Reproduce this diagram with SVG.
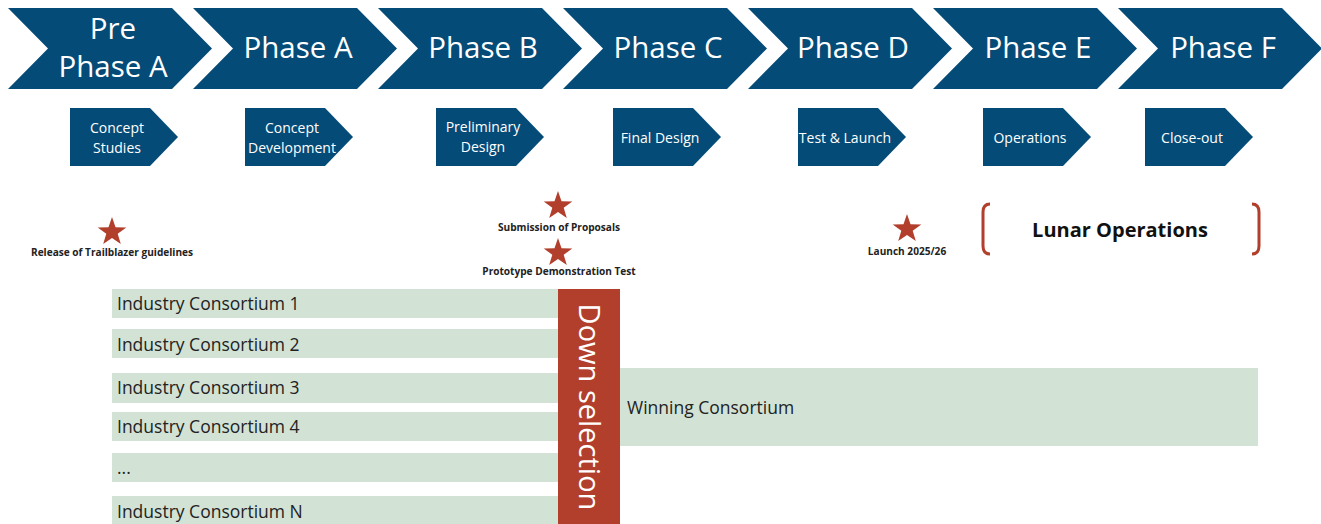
<svg xmlns="http://www.w3.org/2000/svg" width="1321" height="524" viewBox="0 0 1321 524">
<style>
.chev{fill:#054B77}
.big{font-family:"Open Sans","Liberation Sans",sans-serif;font-size:29.5px;fill:#fff;text-anchor:middle}
.sm{font-family:"Open Sans","Liberation Sans",sans-serif;font-size:14px;fill:#fff;text-anchor:middle}
.star{fill:#B23F2C}
.ms{font-family:"Open Sans","Liberation Sans",sans-serif;font-size:10.1px;font-weight:bold;fill:#222;text-anchor:middle}
.bar{fill:#D2E3D6}
.bt{font-family:"Open Sans","Liberation Sans",sans-serif;font-size:17.5px;fill:#222}
.brk{fill:none;stroke:#B23F2C;stroke-width:3}
</style>
<defs>
<path id="ch" d="M0,8 L164,8 L204,48.5 L164,89 L0,89 L40,48.5 Z"/>
<path id="sc" d="M0,108 L80,108 L108,137 L80,166 L0,166 Z"/>
<polygon id="st" points="0,-15 3.5,-4.8 14.3,-4.6 5.7,1.8 8.8,12.1 0,6 -8.8,12.1 -5.7,1.8 -14.3,-4.6 -3.5,-4.8"/>
</defs>
<g id="phase-pre"><use href="#ch" class="chev" x="8"/><text class="big" x="113" y="39">Pre</text><text class="big" x="113" y="77">Phase A</text></g>
<g id="phase-a"><use href="#ch" class="chev" x="193"/><text class="big" x="298" y="58">Phase A</text></g>
<g id="phase-b"><use href="#ch" class="chev" x="378"/><text class="big" x="483" y="58">Phase B</text></g>
<g id="phase-c"><use href="#ch" class="chev" x="563"/><text class="big" x="668" y="58">Phase C</text></g>
<g id="phase-d"><use href="#ch" class="chev" x="748"/><text class="big" x="853" y="58">Phase D</text></g>
<g id="phase-e"><use href="#ch" class="chev" x="933"/><text class="big" x="1038" y="58">Phase E</text></g>
<g id="phase-f"><use href="#ch" class="chev" x="1118"/><text class="big" x="1223" y="58">Phase F</text></g>

<g id="sub-concept-studies"><use href="#sc" class="chev" x="70"/><text class="sm" x="117" y="133">Concept</text><text class="sm" x="117" y="153">Studies</text></g>
<g id="sub-concept-dev"><use href="#sc" class="chev" x="245"/><text class="sm" x="292" y="133">Concept</text><text class="sm" x="292" y="153">Development</text></g>
<g id="sub-prelim"><use href="#sc" class="chev" x="436"/><text class="sm" x="483" y="132">Preliminary</text><text class="sm" x="483" y="152">Design</text></g>
<g id="sub-final"><use href="#sc" class="chev" x="613"/><text class="sm" x="660" y="143">Final Design</text></g>
<g id="sub-test"><use href="#sc" class="chev" x="798"/><text class="sm" x="845" y="143">Test &amp; Launch</text></g>
<g id="sub-ops"><use href="#sc" class="chev" x="983"/><text class="sm" x="1030" y="143">Operations</text></g>
<g id="sub-close"><use href="#sc" class="chev" x="1145"/><text class="sm" x="1192" y="143">Close-out</text></g>

<g id="ms-release"><use href="#st" class="star" x="112" y="232"/><text class="ms" x="112" y="256">Release of Trailblazer guidelines</text></g>
<g id="ms-submission"><use href="#st" class="star" x="558" y="206"/><text class="ms" x="559" y="231">Submission of Proposals</text></g>
<g id="ms-prototype"><use href="#st" class="star" x="558" y="253"/><text class="ms" x="559" y="275">Prototype Demonstration Test</text></g>
<g id="ms-launch"><use href="#st" class="star" x="907" y="229"/><text class="ms" x="907" y="255">Launch 2025/26</text></g>

<g id="lunar-ops">
<path class="brk" d="M990,204 Q983,204 983,212 L983,246 Q983,254 990,254"/>
<path class="brk" d="M1252,204 Q1259,204 1259,212 L1259,246 Q1259,254 1252,254"/>
<text x="1120" y="237" style="font-family:'Open Sans','Liberation Sans',sans-serif;font-size:20px;font-weight:bold;fill:#111;text-anchor:middle">Lunar Operations</text>
</g>

<g id="consortium-1"><rect class="bar" x="112" y="289" width="446" height="29"/><text class="bt" x="117" y="310">Industry Consortium 1</text></g>
<g id="consortium-2"><rect class="bar" x="112" y="329" width="446" height="29"/><text class="bt" x="117" y="351">Industry Consortium 2</text></g>
<g id="consortium-3"><rect class="bar" x="112" y="373" width="446" height="30"/><text class="bt" x="117" y="394">Industry Consortium 3</text></g>
<g id="consortium-4"><rect class="bar" x="112" y="412" width="446" height="29"/><text class="bt" x="117" y="433">Industry Consortium 4</text></g>
<g id="consortium-dots"><rect class="bar" x="112" y="453" width="446" height="29"/><text class="bt" x="117" y="474">...</text></g>
<g id="consortium-n"><rect class="bar" x="112" y="496" width="446" height="28"/><text class="bt" x="117" y="518">Industry Consortium N</text></g>
<g id="winning"><rect class="bar" x="620" y="368" width="638" height="78"/><text class="bt" x="627" y="414">Winning Consortium</text></g>
<g id="down-selection"><rect x="558" y="289" width="62" height="235" fill="#B23F2C"/><text transform="translate(579,407) rotate(90)" style="font-family:'Open Sans','Liberation Sans',sans-serif;font-size:29px;fill:#fff;text-anchor:middle">Down selection</text></g>
<g id="connectors"/>
</svg>
